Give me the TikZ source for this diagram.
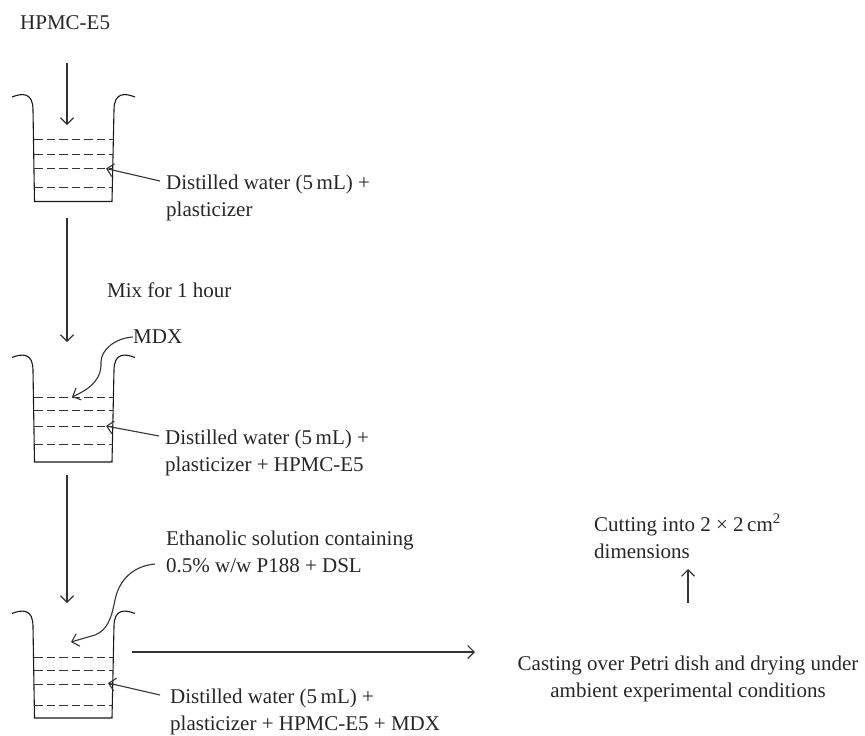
\documentclass[tikz,border=0pt]{standalone}
\usepackage{fontspec}
\setmainfont{Liberation Serif}
\usetikzlibrary{arrows.meta}
\tikzset{
 lbl/.style={anchor=west,inner sep=0pt,font=\fontsize{21}{27}\selectfont,align=left,text=black!85},
 lblc/.style={anchor=center,inner sep=0pt,font=\fontsize{21}{27}\selectfont,align=center,text=black!85},
 flow/.style={line width=1.1pt,draw=black!80,-{Straight Barb[length=6.5pt,width=13pt]}},
 wall/.style={line width=1.1pt,draw=black!90},
 level/.style={line width=1pt,draw=black!80,dash pattern=on 8.5pt off 4pt},
 beaker/.pic={
  \draw[wall] (12,2) .. controls (22,-2) and (33,-3) .. (33,15) -- (34.5,106.5) -- (112,106.5) -- (114,15) .. controls (114,-3) and (125,-2) .. (135,2);
 }
}
\begin{document}
\begin{tikzpicture}[x=1pt,y=-1pt]
\useasboundingbox (0,0) rectangle (865,736);
% labels
\node[lbl] (hpmc) at (20,23) {HPMC-E5};
\node[lbl] (w1) at (166,198) {Distilled water (5\,mL) +\\plasticizer};
\node[lbl] (mix) at (107,290) {Mix for 1 hour};
\node[lbl] (mdx) at (133,337) {MDX};
\node[lbl] (w2) at (165,453) {Distilled water (5\,mL) +\\plasticizer + HPMC-E5};
\node[lbl] (eth) at (166,552) {Ethanolic solution containing\\0.5\% w/w P188 + DSL};
\node[lbl] (w3) at (170,712) {Distilled water (5\,mL) +\\plasticizer + HPMC-E5 + MDX};
\node[lbl] (cut) at (594,536) {Cutting into 2 × 2\,cm\textsuperscript{2}\\dimensions};
\node[lblc] (cast) at (688,679) {Casting over Petri dish and drying under\\ambient experimental conditions};
% beakers
\pic at (0,95) {beaker};
\pic at (0,355.5) {beaker};
\pic at (0,611.5) {beaker};
\foreach \y in {139,154,168.5,187.5,397,410,426,444,657,670,684,705}
  \draw[level] (34,\y) -- (113,\y);
% anchors
\coordinate (a1s) at (67,63); \coordinate (a1e) at (67,125);
\coordinate (a2s) at (67,218); \coordinate (a2e) at (67,342);
\coordinate (a3s) at (67,475); \coordinate (a3e) at (67,603);
\coordinate (p1s) at (160,181); \coordinate (p1e) at (106,168.5);
\coordinate (p2s) at (159,436); \coordinate (p2e) at (106,426);
\coordinate (p3s) at (160,695); \coordinate (p3e) at (108,683);
\coordinate (m1e) at (72,397);
\coordinate (c1s) at (155,564); \coordinate (c1e) at (71,642);
\coordinate (hs) at (132,652); \coordinate (he) at (475,652);
\coordinate (vs) at (688,603); \coordinate (ve) at (688,569);
% arrows
\draw[flow] (a1s) -- (a1e);
\draw[flow] (a2s) -- (a2e);
\draw[flow] (a3s) -- (a3e);
\draw[flow] (p1s) -- (p1e);
\draw[flow] (p2s) -- (p2e);
\draw[flow] (p3s) -- (p3e);
\draw[flow] (mdx.west) .. controls (115,338) and (101,350) .. (101,362) .. controls (102,378) and (92,388) .. (m1e);
\draw[flow] (c1s) .. controls (133,566) and (119,580) .. (115,600) .. controls (111,620) and (107,630) .. (95,635) -- (c1e);
\draw[flow] (hs) -- (he);
\draw[flow] (vs) -- (ve);
\end{tikzpicture}
\end{document}
